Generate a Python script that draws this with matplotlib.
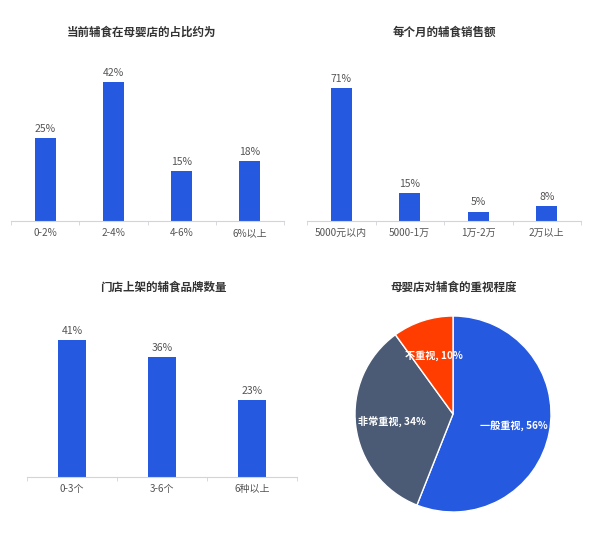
import matplotlib
matplotlib.use("Agg")
import matplotlib.pyplot as plt
import numpy as np

plt.rcParams['font.family'] = ['Noto Sans CJK SC', 'DejaVu Sans']

# ---- data ----
title1 = "当前辅食在母婴店的占比约为"
cats1 = ["0-2%", "2-4%", "4-6%", "6%以上"]
vals1 = [25, 42, 15, 18]

title2 = "每个月的辅食销售额"
cats2 = ["5000元以内", "5000-1万", "1万-2万", "2万以上"]
vals2 = [71, 15, 5, 8]

title3 = "门店上架的辅食品牌数量"
cats3 = ["0-3个", "3-6个", "6种以上"]
vals3 = [41, 36, 23]

title4 = "母婴店对辅食的重视程度"
pie_labels = ["一般重视", "非常重视", "不重视"]
pie_vals = [56, 34, 10]

BLUE = "#2559e0"
SLATE = "#4b5b76"
ORANGE = "#ff3d00"
TXT = "#555555"
AX = "#d0d4dc"

W, H = 600, 539
fig = plt.figure(figsize=(6, 5.39), dpi=100)
fig.patch.set_facecolor("white")


def px_axes(left, right, bottom_y, top_y):
    return fig.add_axes([left / W, 1 - bottom_y / H, (right - left) / W, (bottom_y - top_y) / H])


def bar_chart(ax, cats, vals, ymax, bw):
    x = np.arange(len(cats))
    bars = ax.bar(x, vals, width=bw, color=BLUE, zorder=2)
    ax.set_xlim(-0.5, len(cats) - 0.5)
    ax.set_ylim(0, ymax)
    ax.bar_label(bars, labels=[f"{v}%" for v in vals], padding=3, fontsize=7.5, color=TXT)
    for s in ["top", "right", "left"]:
        ax.spines[s].set_visible(False)
    ax.spines["bottom"].set_color(AX)
    ax.set_yticks([])
    ax.set_xticks(x)
    ax.set_xticklabels(cats, fontsize=7.2, color=TXT)
    ax.tick_params(axis="x", which="major", length=0, pad=5)
    ax.set_xticks(np.arange(-0.5, len(cats)), minor=True)
    ax.tick_params(axis="x", which="minor", length=3, color=AX)


def title(xc, yc, s):
    fig.text(xc / W, 1 - yc / H, s, ha="center", va="center", fontsize=8.3,
             fontweight="bold", color="#333333")


ax1 = px_axes(11, 284, 221, 221 - 3.31 * 50)
bar_chart(ax1, cats1, vals1, 50, 0.31)
title(142, 32, title1)

ax2 = px_axes(307, 581, 221, 221 - 1.87 * 80)
bar_chart(ax2, cats2, vals2, 80, 0.31)
title(444, 32, title2)

ax3 = px_axes(27, 297, 477, 477 - 3.34 * 50)
bar_chart(ax3, cats3, vals3, 50, 0.31)
title(163, 287, title3)

# pie
r = 98
cx, cy = 453, 414
ax4 = fig.add_axes([(cx - r) / W, 1 - (cy + r) / H, 2 * r / W, 2 * r / H])
wedges, texts = ax4.pie(pie_vals, colors=[BLUE, SLATE, ORANGE], startangle=90,
                        counterclock=False, radius=1,
                        labels=[f"{l}, {v}%" for l, v in zip(pie_labels, pie_vals)],
                        labeldistance=0.63,
                        wedgeprops=dict(edgecolor="white", linewidth=1))
for t in texts:
    t.set_ha("center")
    t.set_va("center")
    t.set_color("white")
    t.set_fontsize(7.3)
    t.set_fontweight("bold")
ax4.set_xlim(-1, 1)
ax4.set_ylim(-1, 1)
ax4.set_aspect("equal")
ax4.axis("off")
title(454, 287, title4)

fig.savefig("out.png", dpi=100, facecolor="white")
